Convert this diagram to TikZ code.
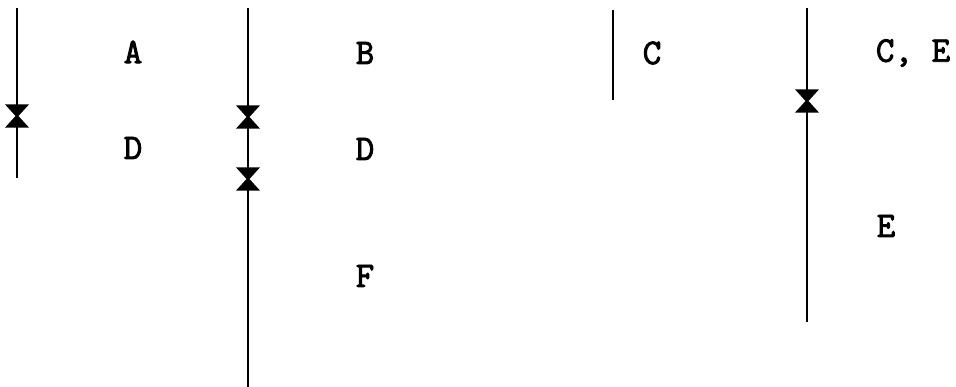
\documentclass[tikz,border=0pt]{standalone}
\usepackage{fontspec}
\newfontfamily\lblfont[FakeBold=2.5]{Latin Modern Mono}
\begin{document}
\begin{tikzpicture}[x=1pt,y=-1pt,
  lbl/.style={font=\fontsize{36}{36}\selectfont\lblfont, inner sep=0pt, anchor=center},
  stem/.style={line width=2.5pt},
  valve/.pic={\draw[line width=2.2pt, line join=miter, fill=black] (-9.5,-10.5) -- (9.5,-10.5) -- (0,0) -- cycle (-9.5,10.5) -- (9.5,10.5) -- (0,0) -- cycle;}]
\useasboundingbox (0,0) rectangle (956,387);
% column 1
\coordinate (l1t) at (17,8); \coordinate (l1b) at (17,178);
\draw[stem] (l1t) -- (l1b);
\pic at (17,116) {valve};
\node[lbl] (A) at (133,52) {A};
\node[lbl] (D1) at (133,148) {D};
% column 2
\coordinate (l2t) at (248,8); \coordinate (l2b) at (248,387);
\draw[stem] (l2t) -- (l2b);
\pic at (248,117) {valve};
\pic at (248,179) {valve};
\node[lbl] (B) at (365,53) {B};
\node[lbl] (D2) at (365,149) {D};
\node[lbl] (F) at (365,276) {F};
% column 3
\coordinate (l3t) at (613,10); \coordinate (l3b) at (613,100);
\draw[stem] (l3t) -- (l3b);
\node[lbl] (C) at (652,53) {C};
% column 4
\coordinate (l4t) at (807,8); \coordinate (l4b) at (807,322);
\draw[stem] (l4t) -- (l4b);
\pic at (807,101) {valve};
\node[lbl] (CE) at (913,53) {C, E};
\node[lbl] (E) at (886,226) {E};
\end{tikzpicture}
\end{document}
